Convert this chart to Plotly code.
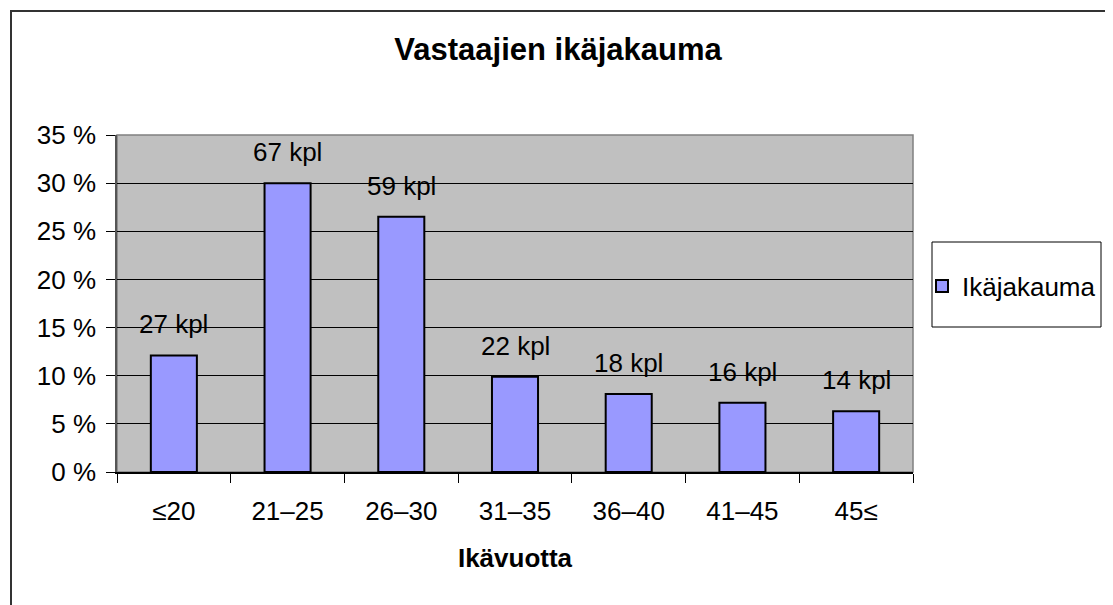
import plotly.graph_objects as go

categories = ["≤20", "21–25", "26–30", "31–35", "36–40", "41–45", "45≤"]
percents = [12.1, 30.0, 26.5, 9.9, 8.1, 7.2, 6.3]
counts = [27, 67, 59, 22, 18, 16, 14]
series_name = "Ikäjakauma"

FONT = "Liberation Sans, Arial, sans-serif"

# the page body has an 8px margin, so the figure is drawn 8px in from the corner
OFF = 8
W, H = 1113 - OFF, 605 - OFF
# plot area in reference pixels: left 117, right 913, top 135, bottom 472
L, R, T, B = 117 - OFF, 913 - OFF, 135 - OFF, 472 - OFF
pw, ph = R - L, B - T

def px_x(x):
    return (x - OFF - L) / pw

def px_y(y):
    return (B - (y - OFF)) / ph

fig = go.Figure()
fig.add_trace(go.Bar(
    x=categories, y=percents, name=series_name,
    marker=dict(color="#9999FF", line=dict(color="#000000", width=2)),
    showlegend=True, hoverinfo="skip",
))

annotations = []
for c, v, n in zip(categories, percents, counts):
    annotations.append(dict(
        x=c, y=v, xref="x", yref="y", text=f"{n} kpl", showarrow=False,
        yanchor="middle", yshift=31,
        font=dict(family=FONT, size=26, color="#000000"),
    ))

shapes = [
    # outer chart border (left + top visible)
    dict(type="rect", xref="paper", yref="paper",
         x0=px_x(11), x1=px_x(1113 + 20), y0=px_y(605 + 20), y1=px_y(11),
         line=dict(color="#333333", width=2), fillcolor="rgba(0,0,0,0)", layer="above"),
    # plot area border
    dict(type="rect", xref="paper", yref="paper", x0=0, x1=1, y0=0, y1=1,
         line=dict(color="#808080", width=1.5), fillcolor="rgba(0,0,0,0)", layer="below"),
    # legend box
    dict(type="rect", xref="paper", yref="paper",
         x0=px_x(932), x1=px_x(1101), y0=px_y(327), y1=px_y(242),
         line=dict(color="#000000", width=1), fillcolor="#FFFFFF", layer="below"),
]

fig.update_layout(
    width=W, height=H,
    margin=dict(l=L, r=W - R, t=T, b=H - B, pad=0),
    paper_bgcolor="#FFFFFF", plot_bgcolor="#C0C0C0",
    font=dict(family=FONT, size=26, color="#000000"),
    title=dict(text="Vastaajien ikäjakauma", xref="container", yref="container",
               x=(558 - OFF) / W, y=1 - (49 - OFF) / H, xanchor="center", yanchor="middle",
               font=dict(family=FONT, size=31, color="#000000", weight="bold")),
    bargap=0.595,
    showlegend=True,
    legend=dict(x=px_x(922), y=px_y(286), xanchor="left", yanchor="middle",
                bgcolor="rgba(0,0,0,0)", borderwidth=0,
                font=dict(family=FONT, size=26, color="#000000")),
    annotations=annotations,
    shapes=shapes,
)

fig.update_xaxes(
    type="category", tickson="boundaries", ticks="outside", ticklen=9,
    tickcolor="#000000", tickwidth=1, showline=True, linecolor="#000000", linewidth=1.5,
    showgrid=False, ticklabelstandoff=15,
    tickfont=dict(family=FONT, size=26, color="#000000"),
    title=dict(text="Ikävuotta", standoff=24,
               font=dict(family=FONT, size=26, color="#000000", weight="bold")),
)
fig.update_yaxes(
    range=[0, 35], dtick=5, tick0=0, ticksuffix=" %", ticks="outside", ticklen=9,
    tickcolor="#000000", tickwidth=1, showline=True, linecolor="#555555", linewidth=1.5,
    showgrid=True, gridcolor="#000000", gridwidth=1, zeroline=False,
    ticklabelstandoff=5,
    tickfont=dict(family=FONT, size=26, color="#000000"),
)

fig.write_html("out.html")
